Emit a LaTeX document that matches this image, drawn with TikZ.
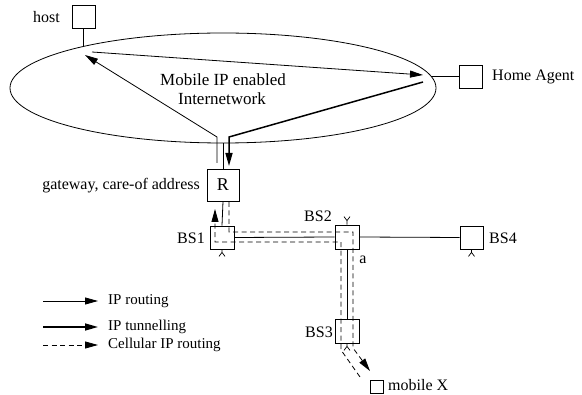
\documentclass[tikz,border=0pt]{standalone}
\usepackage{fontspec}
\setmainfont{Liberation Serif}
\usetikzlibrary{shapes.geometric,arrows.meta}
\begin{document}
\begin{tikzpicture}[x=1pt,y=-1pt,
  box/.style={draw,line width=0.8pt,inner sep=0pt,minimum size=23pt},
  lbl/.style={font=\fontsize{16}{18}\selectfont,inner sep=0pt},
  leg/.style={font=\fontsize{15}{17}\selectfont,inner sep=0pt,anchor=west},
  link/.style={line width=0.8pt},
  tip/.style={-{Triangle[length=13pt,width=7pt]}},
  thinarr/.style={line width=0.8pt,tip},
  thickarr/.style={line width=1.5pt,tip},
  dasharr/.style={line width=0.8pt,dash pattern=on 5pt off 3.5pt,tip},
  dashln/.style={line width=0.8pt,dash pattern=on 5pt off 3.5pt}]
\useasboundingbox (0,0) rectangle (582,395);

% network ellipse
\node[draw,ellipse,line width=0.8pt,inner sep=0pt,minimum width=426pt,minimum height=110pt] (net) at (223,88) {};
\node[font=\fontsize{17}{19}\selectfont,inner sep=0pt] (t1) at (223,80) {Mobile IP enabled};
\node[font=\fontsize{17}{19}\selectfont,inner sep=0pt] (t2) at (222,99) {Internetwork};

% host
\node[box] (host) at (83.5,17) {};
\node[lbl,anchor=east] (hostl) at (60,17) {host};
\coordinate (hostatt) at (83.5,46.5);
\draw[link] (host.south) -- (hostatt);

% home agent
\node[box] (ha) at (471,76.5) {};
\node[lbl,anchor=west] (hal) at (492,77) {Home Agent};
\coordinate (haatt) at (431,76.5);
\draw[link] (haatt) -- (ha.west);

% R
\node[box,minimum size=32pt,font=\fontsize{18}{20}\selectfont] (R) at (223,185) {R};
\node[lbl,anchor=east] (gw) at (200,186) {gateway, care-of address};
\coordinate (ratt) at (223,143);
\draw[link] (R.north) -- (ratt);

% base stations
\node[box,minimum width=24pt] (bs1) at (222,237.5) {};
\node[box,minimum size=24pt] (bs2) at (347,237) {};
\node[box,minimum size=24pt] (bs3) at (347,331) {};
\node[box] (bs4) at (471.5,237.5) {};
\node[box,minimum size=13pt] (mx) at (377,386.5) {};

\node[lbl,anchor=east] (bs1l) at (205,238) {BS1};
\node[lbl] (bs2l) at (318,216) {BS2};
\node[lbl,anchor=east] (bs3l) at (333,332) {BS3};
\node[lbl,anchor=west] (bs4l) at (489,238) {BS4};
\node[lbl] (al) at (363,260) {a};
\node[lbl,anchor=west] (mxl) at (388,385) {mobile X};

% links
\draw[link] (R.south) -- (bs1.north);
\draw[link] (bs1.east) -- (bs2.west);
\draw[link] (bs2.east) -- (bs4.west);
\draw[link] (bs2.south) -- (bs3.north);

% antennas
\draw[line width=0.7pt] (bs1.south) -- ++(0,3) coordinate (a1) -- ++(-3,4) (a1) -- ++(3,4);
\draw[line width=0.7pt] (bs4.south) -- ++(0,3) coordinate (a4) -- ++(-3,4) (a4) -- ++(3,4);
\draw[line width=0.7pt] (bs3.south) -- ++(0,3) coordinate (a3) -- ++(-3,4) (a3) -- ++(3,4);
\draw[line width=0.7pt] (bs2.north) -- ++(0,-4) coordinate (a2) -- ++(-3,-4) (a2) -- ++(3,-4);

% IP routing / tunnelling arrows
\coordinate (p1s) at (92,52);
\coordinate (p1e) at (423,75);
\draw[thinarr] (p1s) -- (p1e);
\coordinate (p2s) at (217,163);
\coordinate (p2m) at (217,137);
\coordinate (p2e) at (85,55);
\draw[thinarr] (p2s) -- (p2m) -- (p2e);
\coordinate (p3s) at (423,82);
\coordinate (p3m) at (229,137);
\coordinate (p3e) at (229,166);
\draw[thickarr] (p3s) -- (p3m) -- (p3e);

% cellular IP routing
\coordinate (c1s) at (229,202);
\coordinate (c1a) at (229,232);
\coordinate (c1b) at (353,232);
\coordinate (c1c) at (353,348);
\coordinate (c1e) at (370,371);
\draw[dasharr] (c1s) -- (c1a) -- (c1b) -- (c1c) -- (c1e);
\coordinate (c2s) at (360,377);
\coordinate (c2a) at (341,350);
\coordinate (c2b) at (341,242);
\coordinate (c2c) at (215,242);
\coordinate (c2e) at (215,209);
\draw[dasharr] (c2s) -- (c2a) -- (c2b) -- (c2c) -- (c2e);

% legend
\coordinate (l1a) at (43,301); \coordinate (l1b) at (98,301);
\coordinate (l2a) at (43,327); \coordinate (l2b) at (98,327);
\coordinate (l3a) at (43,345); \coordinate (l3b) at (98,345);
\draw[thinarr] (l1a) -- (l1b);
\draw[thickarr] (l2a) -- (l2b);
\draw[dasharr] (l3a) -- (l3b);
\node[leg] (lg1) at (108,301) {IP routing};
\node[leg] (lg2) at (108,327) {IP tunnelling};
\node[leg] (lg3) at (108,345) {Cellular IP routing};
\end{tikzpicture}
\end{document}
